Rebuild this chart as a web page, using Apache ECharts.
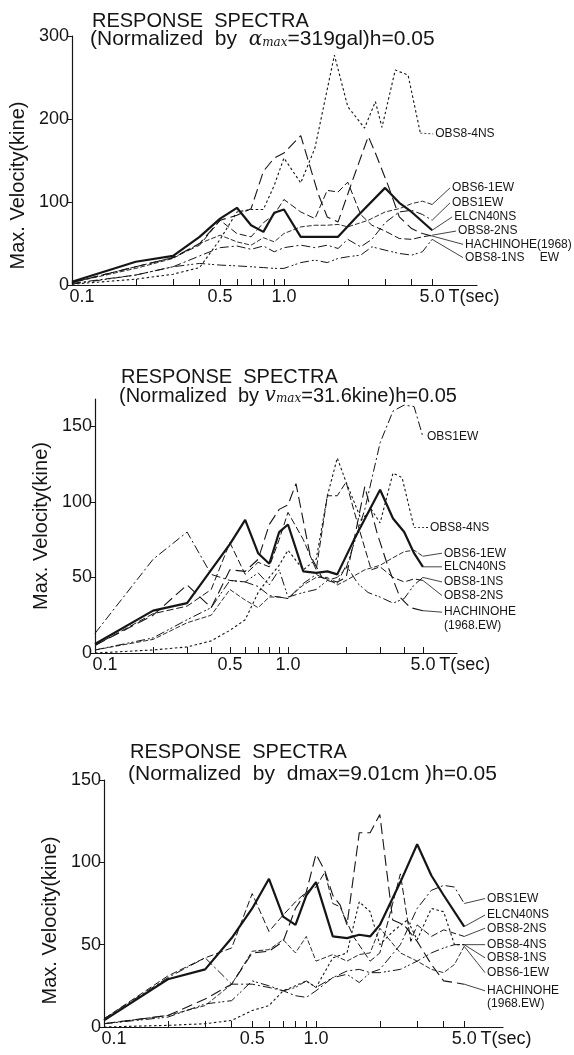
<!DOCTYPE html>
<html><head><meta charset="utf-8">
<script src="https://cdn.jsdelivr.net/npm/echarts@6/dist/echarts.min.js"></script>
<style>html,body{margin:0;padding:0;background:#fff}#c{width:574px;height:1055px}</style>
</head><body><div id="c"></div>
<script>
// ---------- DATA (period T [sec], max velocity [kine]) ----------
const xTickValues = [0.1,0.2,0.3,0.4,0.5,0.6,0.7,0.8,0.9,1,2,3,4,5];
const xLabelValues = [0.1,0.5,1,5];
const xLabelText = {0.1:'0.1',0.5:'0.5',1:'1.0',5:'5.0'};
const yTicksP1 = [0,100,200,300];
const yTicksP2 = [0,50,100,150];
const yTicksP3 = [0,50,100,150];

// Panel 1: normalized by amax = 319 gal
const p1_ELCN40NS = [[0.1,4],[0.2,28],[0.3,35],[0.4,58],[0.5,80],[0.6,93],[0.7,72],[0.8,64],[0.9,87],[1.0,91],[1.2,58],[1.5,58],[1.8,58],[2.2,82],[3.0,117],[3.5,99],[4.0,88],[5.0,66]];
const p1_OBS84NS = [[0.1,1],[0.2,7],[0.3,13],[0.4,21],[0.5,55],[0.6,88],[0.7,91],[0.8,91],[0.9,120],[1.0,153],[1.2,123],[1.4,165],[1.73,277],[2.0,215],[2.4,189],[2.7,221],[2.9,190],[3.35,259],[3.85,253],[4.4,183]];
const p1_HACHINOHE = [[0.1,3],[0.2,22],[0.3,33],[0.4,50],[0.5,78],[0.6,84],[0.7,92],[0.8,137],[0.9,153],[1.0,159],[1.2,180],[1.45,110],[1.6,82],[1.8,76],[2.1,125],[2.5,179],[2.7,159],[3.1,120],[3.5,82],[4.0,68],[4.5,62],[5.0,59]];
const p1_OBS1EW = [[0.1,2],[0.2,12],[0.3,22],[0.4,35],[0.5,45],[0.6,47],[0.7,43],[0.8,47],[0.9,40],[1.0,45],[1.2,48],[1.4,45],[1.6,48],[1.8,44],[2.0,55],[2.3,46],[2.6,55],[3.0,75],[3.5,88],[4.0,90],[4.5,85],[5.0,78]];
const p1_OBS61EW = [[0.1,3],[0.2,20],[0.3,32],[0.4,50],[0.5,60],[0.6,52],[0.7,48],[0.8,57],[0.9,52],[1.0,62],[1.2,70],[1.4,72],[1.6,72],[1.8,73],[2.0,70],[2.5,78],[3.0,88],[3.5,92],[4.0,98],[4.5,101],[5.0,97]];
const p1_OBS82NS = [[0.1,3],[0.2,22],[0.3,33],[0.4,48],[0.5,78],[0.6,62],[0.7,58],[0.8,75],[0.9,85],[1.0,103],[1.2,88],[1.4,80],[1.6,114],[1.8,112],[2.0,124],[2.3,85],[2.6,72],[3.0,65],[3.5,56],[4.0,55],[4.5,58],[5.0,60]];
const p1_OBS81NS = [[0.1,1],[0.2,12],[0.3,22],[0.4,26],[0.5,24],[0.6,23],[0.7,22],[0.8,21],[0.9,20],[1.0,20],[1.2,27],[1.4,30],[1.6,27],[1.8,32],[2.0,34],[2.3,36],[2.6,46],[3.0,42],[3.5,38],[4.0,36],[4.5,40],[5.0,55]];

// Panel 2: normalized by vmax = 31.6 kine
const p2_ELCN40NS = [[0.1,6],[0.2,28],[0.3,33],[0.4,55],[0.5,72],[0.6,88],[0.7,66],[0.8,59],[0.9,80],[1.0,85],[1.2,54],[1.4,53],[1.6,54],[1.8,52],[2.2,75],[3.0,108],[3.5,89],[4.0,80],[4.5,66],[5.0,57]];
const p2_OBS1EW = [[0.1,13],[0.2,62],[0.3,80],[0.4,52],[0.5,48],[0.6,47],[0.7,44],[0.8,38],[0.9,37],[1.0,36],[1.2,46],[1.4,52],[1.6,48],[1.8,50],[2.0,56],[2.5,95],[3.0,139],[3.5,160],[4.0,164],[4.5,163],[5.0,143]];
const p2_OBS84NS = [[0.1,0],[0.2,2],[0.3,4],[0.4,8],[0.5,15],[0.6,22],[0.7,40],[0.8,50],[0.9,58],[1.0,68],[1.2,55],[1.4,62],[1.6,104],[1.8,129],[2.0,113],[2.4,88],[2.7,95],[3.0,86],[3.5,119],[3.9,116],[4.5,83]];
const p2_OBS82NS = [[0.1,5],[0.2,26],[0.3,31],[0.4,42],[0.5,73],[0.6,52],[0.7,60],[0.8,57],[0.9,75],[1.0,93],[1.2,75],[1.4,55],[1.6,104],[1.8,104],[2.0,113],[2.3,85],[2.7,55],[3.0,57],[3.5,50],[4.0,47],[4.5,49],[5.0,48]];
const p2_HACHINOHE = [[0.1,5],[0.2,25],[0.3,45],[0.4,30],[0.5,55],[0.6,54],[0.7,62],[0.8,85],[0.9,95],[1.0,98],[1.1,112],[1.3,65],[1.5,50],[1.8,47],[2.0,50],[2.2,75],[2.5,110],[2.9,79],[3.3,57],[3.8,37],[4.3,30],[5.0,28]];
const p2_OBS61EW = [[0.1,2],[0.2,9],[0.3,20],[0.4,25],[0.5,42],[0.6,35],[0.7,30],[0.8,37],[0.9,37],[1.0,36],[1.2,45],[1.4,50],[1.6,50],[1.8,45],[2.0,48],[2.5,55],[3.0,58],[3.5,63],[4.0,67],[4.5,68],[5.0,64]];
const p2_OBS81NS = [[0.1,2],[0.2,10],[0.3,22],[0.4,30],[0.5,48],[0.6,47],[0.7,53],[0.8,45],[0.9,55],[1.0,37],[1.2,40],[1.4,42],[1.6,48],[1.8,46],[2.0,58],[2.3,46],[2.6,40],[3.0,37],[3.5,33],[4.0,36],[4.5,45],[5.0,50]];

// Panel 3: normalized by dmax = 9.01 cm
const p3_ELCN40NS = [[0.1,4],[0.2,29],[0.3,35],[0.4,54],[0.5,72],[0.6,90],[0.7,67],[0.8,62],[0.9,80],[1.0,88],[1.2,55],[1.4,54],[1.6,56],[1.8,55],[2.0,62],[2.5,88],[3.0,111],[3.5,92],[4.0,80],[5.0,61]];
const p3_HACHINOHE = [[0.1,2],[0.2,7],[0.3,17],[0.4,26],[0.5,45],[0.6,46],[0.7,52],[0.8,72],[0.9,82],[1.0,105],[1.1,95],[1.2,80],[1.3,74],[1.4,62],[1.6,118],[1.8,118],[2.0,129],[2.3,65],[2.6,62],[3.0,52],[3.5,38],[4.0,28],[4.5,27],[5.0,26]];
const p3_OBS1EW = [[0.1,5],[0.2,30],[0.3,42],[0.4,26],[0.5,26],[0.6,24],[0.7,22],[0.8,19],[0.9,18],[1.0,22],[1.2,30],[1.4,34],[1.6,35],[1.8,33],[2.0,35],[2.5,50],[3.0,72],[3.5,83],[4.0,86],[4.5,85],[5.0,75]];
const p3_OBS82NS = [[0.1,5],[0.2,31],[0.3,42],[0.4,48],[0.5,81],[0.6,58],[0.7,68],[0.8,76],[0.9,82],[1.0,85],[1.1,94],[1.2,75],[1.3,73],[1.5,55],[1.8,40],[2.0,45],[2.5,93],[2.8,52],[3.0,62],[3.5,55],[4.0,59],[5.0,55]];
const p3_OBS84NS = [[0.1,0],[0.2,1],[0.3,2],[0.4,4],[0.5,10],[0.6,13],[0.7,22],[0.8,25],[0.9,28],[1.0,24],[1.2,42],[1.4,45],[1.6,76],[1.8,70],[2.0,50],[2.3,58],[2.7,65],[3.0,53],[3.5,72],[4.0,70],[4.5,50],[5.0,50]];
const p3_OBS81NS = [[0.1,2],[0.2,6],[0.3,14],[0.4,16],[0.5,28],[0.6,25],[0.7,22],[0.8,24],[0.9,28],[1.0,24],[1.2,30],[1.4,32],[1.6,27],[1.8,33],[2.0,33],[2.5,35],[3.0,40],[3.5,45],[4.0,48],[4.5,50],[5.0,50]];
const p3_OBS61EW = [[0.1,2],[0.2,7],[0.3,13],[0.4,26],[0.5,46],[0.6,47],[0.7,53],[0.8,45],[0.9,55],[1.0,40],[1.2,44],[1.4,40],[1.6,44],[1.8,45],[2.0,60],[2.5,45],[3.0,40],[3.5,35],[4.0,33],[4.5,38],[5.0,49]];

// ---------- STYLES ----------
const FONT = '"Liberation Sans", Arial, sans-serif';
const INK = '#151515';
const STYLE = {
  'ELCN40NS':  {width:2.2, type:'solid'},
  'OBS8-4NS':  {width:1.1, type:[2.5,2.5]},
  'OBS1EW':    {width:1.0, type:[9,3,2,3]},
  'HACHINOHE': {width:1.1, type:[11,5]},
  'OBS8-2NS':  {width:1.0, type:[7,3]},
  'OBS8-1NS':  {width:1.0, type:[9,3,2,2,2,3]},
  'OBS6-1EW':  {width:0.9, type:[5,2]}
};
const panels = [
  {data:{'OBS8-4NS':p1_OBS84NS,'HACHINOHE':p1_HACHINOHE,'OBS1EW':p1_OBS1EW,'OBS6-1EW':p1_OBS61EW,'OBS8-2NS':p1_OBS82NS,'OBS8-1NS':p1_OBS81NS,'ELCN40NS':p1_ELCN40NS}},
  {data:{'OBS8-4NS':p2_OBS84NS,'HACHINOHE':p2_HACHINOHE,'OBS1EW':p2_OBS1EW,'OBS6-1EW':p2_OBS61EW,'OBS8-2NS':p2_OBS82NS,'OBS8-1NS':p2_OBS81NS,'ELCN40NS':p2_ELCN40NS}},
  {data:{'OBS8-4NS':p3_OBS84NS,'HACHINOHE':p3_HACHINOHE,'OBS1EW':p3_OBS1EW,'OBS6-1EW':p3_OBS61EW,'OBS8-2NS':p3_OBS82NS,'OBS8-1NS':p3_OBS81NS,'ELCN40NS':p3_ELCN40NS}}
];

// layout
const grids = [
  {left:70, top:36, width:407, height:249},
  {left:95, top:399, width:362, height:254},
  {left:104, top:780, width:399, height:247}
];
const xMax = [8.14, 7.51, 7.62];
const yMax = [300, 168, 150];
const yTicks = [yTicksP1, yTicksP2, yTicksP3];
const tNameGap = [-30, -26, -30];
const yNamePad = [[0,50,0,0],[0,0,0,0],[0,34,0,0]];

const txt = (size, extra) => Object.assign({fontSize:size, fontFamily:FONT, color:INK, fontWeight:'normal'}, extra||{});

const xAxes = grids.map((g,i)=>({
  type:'log', logBase:10, gridIndex:i, min:0.1, max:xMax[i],
  axisLine:{lineStyle:{color:INK, width:1.2}},
  axisTick:{show:true, inside:true, length:6, customValues:xTickValues, lineStyle:{color:INK, width:1}},
  minorTick:{show:false},
  splitLine:{show:false},
  axisLabel:Object.assign(txt(18), {customValues:xLabelValues, margin:3,
    formatter:v=> (Math.abs(v-0.1)<1e-9) ? '{s|0.1}' : (xLabelText[v] || xLabelText[Math.round(v*10)/10] || ''),
    rich:{s:txt(18,{padding:[0,0,0,20]})}}),
  name:'T(sec)', nameLocation:'end', nameGap:tNameGap[i],
  nameTextStyle:txt(18,{verticalAlign:'top', padding:[3,0,0,0]})
}));
const yAxes = grids.map((g,i)=>({
  type:'value', gridIndex:i, min:0, max:yMax[i],
  axisLine:{show:true, lineStyle:{color:INK, width:1.2}},
  axisTick:{show:true, inside:false, length:4, customValues:yTicks[i], lineStyle:{color:INK}},
  splitLine:{show:false},
  axisLabel:Object.assign(txt(18), {customValues:yTicks[i], margin:3}),
  name:'Max. Velocity(kine)', nameLocation:'middle', nameGap:40,
  nameTextStyle:txt(20,{padding:yNamePad[i]})
}));

const order = ['OBS8-1NS','OBS6-1EW','OBS8-2NS','OBS1EW','HACHINOHE','OBS8-4NS','ELCN40NS'];
const series = [];
panels.forEach((p,i)=>{
  order.forEach(name=>{
    series.push({
      type:'line', name:name+'#'+i, xAxisIndex:i, yAxisIndex:i, data:p.data[name],
      symbol:'none', silent:true, animation:false, clip:false,
      lineStyle:{color:INK, width:STYLE[name].width, type:STYLE[name].type}
    });
  });
});

const rich = {
  i:txt(20,{fontStyle:'italic', fontFamily:'"DejaVu Serif", serif'}),
  m:txt(12,{fontStyle:'italic', fontFamily:'"DejaVu Serif", serif', padding:[6,0,0,0]})
};
const titles = [
  {text:'RESPONSE  SPECTRA', left:92, top:11, fs:20},
  {text:'(Normalized  by  {i|α}{m|max}=319gal)h=0.05', left:90, top:29, fs:21},
  {text:'RESPONSE  SPECTRA', left:121, top:367, fs:20},
  {text:'(Normalized  by {i|v}{m|max}=31.6kine)h=0.05', left:119, top:386, fs:20},
  {text:'RESPONSE  SPECTRA', left:130, top:742, fs:20},
  {text:'(Normalized  by  dmax=9.01cm )h=0.05', left:128, top:764, fs:21}
].map(t=>({text:t.text, left:t.left, top:t.top, padding:0, textStyle:txt(t.fs,{rich:rich})}));

const chart = echarts.init(document.getElementById('c'), null, {renderer:'canvas'});
chart.setOption({
  backgroundColor:'#fff', animation:false,
  title:titles,
  grid:grids.map(g=>Object.assign({containLabel:false}, g)),
  xAxis:xAxes, yAxis:yAxes, series:series
});

// ---------- Curve labels with leader lines (positions in data space) ----------
const curveLabels = [
  {g:0, s:'OBS8-4NS', at:[5.17,182], dash:[2,2]},
  {g:0, s:'OBS6-1EW', at:[6.21,117]},
  {g:0, s:'OBS1EW', at:[6.21,99]},
  {g:0, s:'ELCN40NS', at:[6.35,82]},
  {g:0, s:'OBS8-2NS', at:[6.63,65]},
  {g:0, s:'HACHINOHE', label:'HACHINOHE(1968)', at:[7.15,49]},
  {g:0, s:'OBS8-1NS', at:[7.15,33]},
  {g:0, label:'EW', at:[16.1,33]},
  {g:1, label:'OBS1EW', at:[5.25,143]},
  {g:1, s:'OBS8-4NS', at:[5.44,83], dash:[2,2]},
  {g:1, s:'OBS6-1EW', at:[6.43,66]},
  {g:1, s:'ELCN40NS', at:[6.43,57]},
  {g:1, s:'OBS8-1NS', at:[6.43,47]},
  {g:1, s:'OBS8-2NS', at:[6.43,38]},
  {g:1, s:'HACHINOHE', at:[6.43,27]},
  {g:1, label:'(1968.EW)', at:[6.43,18]},
  {g:2, s:'OBS1EW', at:[6.41,78]},
  {g:2, s:'ELCN40NS', at:[6.41,68]},
  {g:2, s:'OBS8-2NS', at:[6.41,60]},
  {g:2, s:'OBS8-4NS', at:[6.41,50]},
  {g:2, s:'OBS8-1NS', at:[6.41,42]},
  {g:2, s:'OBS6-1EW', at:[6.41,33]},
  {g:2, s:'HACHINOHE', at:[6.41,22]},
  {g:2, label:'(1968.EW)', at:[6.41,14]}
];
const graphics = [];
curveLabels.forEach(c=>{
  const pt = chart.convertToPixel({xAxisIndex:c.g, yAxisIndex:c.g}, c.at);
  if (c.s) {
    const d = panels[c.g].data[c.s];
    const end = chart.convertToPixel({xAxisIndex:c.g, yAxisIndex:c.g}, d[d.length-1]);
    graphics.push({type:'line', silent:true, shape:{x1:end[0], y1:end[1], x2:pt[0]-2, y2:pt[1]},
      style:{stroke:INK, lineWidth:0.8, lineDash:c.dash||null}});
  }
  graphics.push({type:'text', silent:true, x:pt[0], y:pt[1],
    style:{text:c.label||c.s, fill:INK, fontSize:12, fontFamily:FONT, align:'left', verticalAlign:'middle'}});
});
chart.setOption({graphic:graphics});
</script>
</body></html>
